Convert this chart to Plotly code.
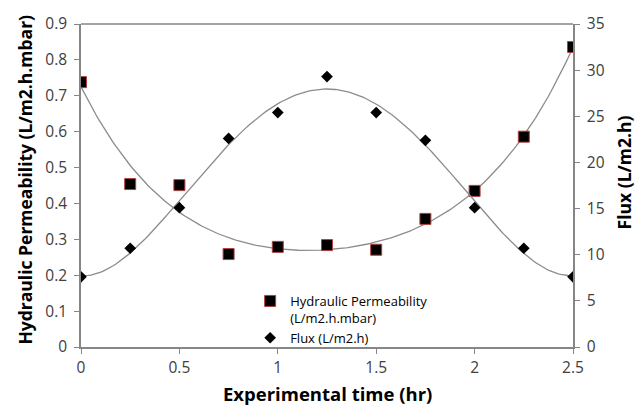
import numpy as np
import plotly.graph_objects as go

time_hr = [0, 0.25, 0.5, 0.75, 1.0, 1.25, 1.5, 1.75, 2.0, 2.25, 2.5]
permeability = [0.738, 0.454, 0.451, 0.259, 0.279, 0.284, 0.271, 0.357, 0.435, 0.586, 0.836]
flux = [7.6, 10.7, 15.1, 22.6, 25.4, 29.3, 25.4, 22.4, 15.1, 10.7, 7.6]

x_ticks = [0, 0.5, 1, 1.5, 2, 2.5]

# polynomial trendlines (like spreadsheet trendlines) fitted to the data
xs = np.linspace(min(time_hr), max(time_hr), 200)
p_perm = np.polyfit(time_hr, permeability, 4)
p_flux = np.polyfit(time_hr, flux, 4)

title_font = "'Open Sans', Lato, sans-serif"
fig = go.Figure()
fig.add_trace(go.Scatter(x=xs, y=np.polyval(p_perm, xs), mode="lines",
                         line=dict(color="#8c8c8c", width=1.3), showlegend=False, hoverinfo="skip"))
fig.add_trace(go.Scatter(x=xs, y=np.polyval(p_flux, xs), mode="lines", yaxis="y2",
                         line=dict(color="#8c8c8c", width=1.3), showlegend=False, hoverinfo="skip"))
fig.add_trace(go.Scatter(x=time_hr, y=permeability, mode="markers",
                         name="Hydraulic Permeability<br>(L/m2.h.mbar)",
                         marker=dict(symbol="square", size=11, color="black",
                                     line=dict(color="#b04040", width=1))))
fig.add_trace(go.Scatter(x=time_hr, y=flux, mode="markers", yaxis="y2",
                         name="Flux (L/m2.h)",
                         marker=dict(symbol="diamond", size=9, color="black")))

axis_common = dict(showgrid=False, zeroline=False, showline=True, linecolor="#868686",
                   linewidth=1.5, ticks="outside", ticklen=5, tickcolor="#868686",
                   automargin=False,
                   tickfont=dict(size=15.5, color="#404040", family=title_font))

L, R, T, B = 80.5, 573.5, 24, 347
W, H = R - L, B - T

fig.update_layout(
    width=644, height=407,
    margin=dict(l=L, r=644 - R, t=T, b=407 - B),
    plot_bgcolor="white", paper_bgcolor="white",
    font=dict(family=title_font, color="black"),
    xaxis=dict(range=[0, 2.5], tickvals=x_ticks, ticktext=[f"{v:g}" for v in x_ticks],
               ticklabelstandoff=1, **axis_common),
    yaxis=dict(range=[0, 0.9], dtick=0.1, ticklabelstandoff=4, **axis_common),
    yaxis2=dict(range=[0, 35], dtick=5, overlaying="y", side="right",
                ticklabelstandoff=4, **axis_common),
    legend=dict(x=(250 - L) / W, y=(B - 286) / H, xanchor="left", yanchor="top",
                valign="top", bgcolor="rgba(0,0,0,0)",
                font=dict(size=13, color="black", family=title_font),
                itemwidth=30, tracegroupgap=0),
    shapes=[dict(type="line", xref="paper", yref="paper", x0=0, x1=1, y0=1, y1=1,
                 line=dict(color="#868686", width=1.5))],
    annotations=[
        dict(text="<b>Experimental time (hr)</b>", xref="paper", yref="paper",
             x=0.5, y=(B - 393) / H, xanchor="center", yanchor="middle",
             showarrow=False, font=dict(size=18.5, color="black")),
        dict(text="<b>Hydraulic Permeability (L/m2.h.mbar)</b>", xref="paper", yref="paper",
             x=(24 - L) / W, y=(B - 180) / H, xanchor="center", yanchor="middle",
             textangle=-90, showarrow=False, font=dict(size=17.5, color="black")),
        dict(text="<b>Flux (L/m2.h)</b>", xref="paper", yref="paper",
             x=(625 - L) / W, y=(B - 172) / H, xanchor="center", yanchor="middle",
             textangle=-90, showarrow=False, font=dict(size=17.5, color="black")),
    ],
)
fig.write_html("out.html", config={"displayModeBar": False},
               post_script="document.body.style.margin='0px';")
